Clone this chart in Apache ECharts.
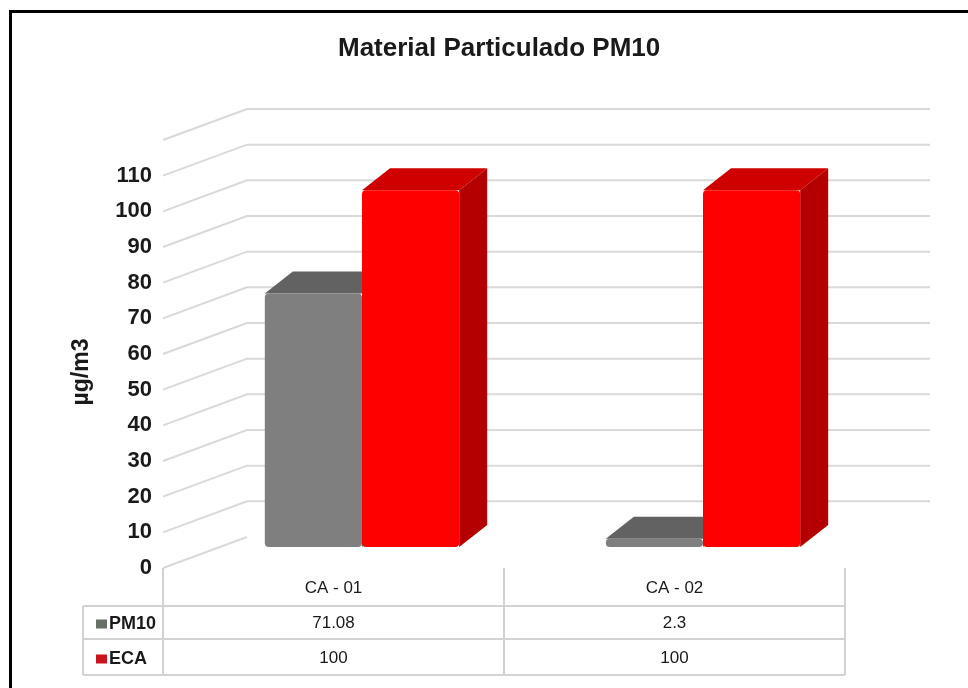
<!DOCTYPE html>
<html>
<head>
<meta charset="utf-8">
<title>Material Particulado PM10</title>
<script src="https://cdn.jsdelivr.net/npm/echarts@6/dist/echarts.min.js"></script>
<style>
  html, body { margin: 0; padding: 0; background: #ffffff; }
  #chart { width: 968px; height: 688px; }
</style>
</head>
<body>
<div id="chart"></div>
<script>
// ---- data ----
const categories = ['CA - 01', 'CA - 02'];
const seriesNames = ['PM10', 'ECA'];
const pm10 = [71.08, 2.3];
const eca = [100, 100];
const axisMin = 0;
const axisMax = 120;
const axisStep = 10;

// ---- layout / style ----
const FONT = "'Liberation Sans', Arial, sans-serif";
const GRID = { left: 163, right: 123, top: 140, bottom: 120 };   // front plane of the 3D box
const WALL_SHIFT = [84, -31];      // front plane -> back wall
const MID_SHIFT = [28.5, -21];     // front plane -> plane of the column faces
const DEPTH = [28, -22];           // column depth (top / side faces)
const BAR_FRACTION = 0.285;        // column width relative to a category band
const WALL_EXTRA = 85;             // wall extends past the front plane on the right
const GRID_COLOR = '#d9d9d9';
const TABLE_COLOR = '#d2d2d2';
const TEXT_COLOR = '#1a1a1a';
const TABLE_LEFT = 83;
const TABLE_ROWS = [38, 71, 107];  // row lines below the plot floor

const COLORS = {
  PM10: { front: '#7f7f7f', top: '#626262', side: '#6a6a6a', key: '#687067' },
  ECA:  { front: '#ff0000', top: '#cf0000', side: '#b40000', key: '#c8141c' }
};

const W = 968, H = 688;
const plotW = W - GRID.left - GRID.right;
const floorY = H - GRID.bottom;

function wallLevels() {
  const out = [];
  for (let v = axisMin; v <= axisMax; v += axisStep) out.push([0, v]);
  return out;
}

// back wall gridlines with their diagonal run along the left side wall
function renderWall(params, api) {
  const cs = params.coordSys;
  const v = api.value(1);
  const y = api.coord([0, v])[1];
  const x0 = cs.x;
  const pts = [[x0, y], [x0 + WALL_SHIFT[0], y + WALL_SHIFT[1]]];
  if (v > axisMin) pts.push([cs.x + cs.width + WALL_EXTRA, y + WALL_SHIFT[1]]);
  return {
    type: 'polyline',
    shape: { points: pts },
    style: { stroke: GRID_COLOR, lineWidth: 2, fill: null }
  };
}

// 3D-looking column: front face, top face and right side face
function columnRenderer(side, c) {
  return function (params, api) {
    const idx = api.value(0);
    const val = api.value(1);
    const base = api.coord([idx, 0]);
    const top = api.coord([idx, val]);
    const band = api.size([1, 0])[0];
    const w = band * BAR_FRACTION;
    const cx = base[0] + MID_SHIFT[0];
    const x0 = side < 0 ? cx - w : cx;
    const x1 = x0 + w;
    const yb = base[1] + MID_SHIFT[1];
    const yt = top[1] + MID_SHIFT[1];
    const dx = DEPTH[0], dy = DEPTH[1];
    return {
      type: 'group',
      children: [
        { type: 'polygon', shape: { points: [[x0, yt], [x0 + dx, yt + dy], [x1 + dx, yt + dy], [x1, yt]] },
          style: { fill: c.top } },
        { type: 'polygon', shape: { points: [[x1, yt], [x1 + dx, yt + dy], [x1 + dx, yb + dy], [x1, yb]] },
          style: { fill: c.side } },
        { type: 'rect', shape: { x: x0, y: yt, width: w, height: yb - yt, r: 4 },
          style: { fill: c.front } }
      ]
    };
  };
}

// data table grid lines under the plot
function tableLines() {
  const xs = [GRID.left, GRID.left + plotW / 2, GRID.left + plotW];
  const lines = [];
  TABLE_ROWS.forEach(function (dy) {
    lines.push({ x1: TABLE_LEFT, y1: floorY + dy, x2: GRID.left + plotW, y2: floorY + dy });
  });
  xs.forEach(function (x) {
    lines.push({ x1: x, y1: floorY, x2: x, y2: floorY + TABLE_ROWS[2] });
  });
  lines.push({ x1: TABLE_LEFT, y1: floorY + TABLE_ROWS[0], x2: TABLE_LEFT, y2: floorY + TABLE_ROWS[2] });
  return lines.map(function (s) {
    return { type: 'line', shape: s, style: { stroke: TABLE_COLOR, lineWidth: 2 }, silent: true, z: 1 };
  });
}

const chart = echarts.init(document.getElementById('chart'), null, { renderer: 'canvas' });

const option = {
  animation: false,
  backgroundColor: '#ffffff',
  title: {
    text: 'Material Particulado PM10',
    left: 333,
    top: 31,
    textStyle: { fontFamily: FONT, fontWeight: 'bold', fontSize: 26, color: TEXT_COLOR }
  },
  legend: {
    orient: 'vertical',
    left: 91,
    top: 609,
    itemGap: 15,
    itemWidth: 11,
    itemHeight: 9,
    icon: 'rect',
    selectedMode: false,
    data: [
      { name: seriesNames[0], itemStyle: { color: COLORS.PM10.key } },
      { name: seriesNames[1], itemStyle: { color: COLORS.ECA.key } }
    ],
    textStyle: { fontFamily: FONT, fontWeight: 'bold', fontSize: 18, color: TEXT_COLOR, lineHeight: 20, padding: [0, 0, 0, -3] }
  },
  grid: { left: GRID.left, right: GRID.right, top: GRID.top, bottom: GRID.bottom },
  xAxis: {
    type: 'category',
    data: categories,
    axisLine: { show: false },
    axisTick: { show: false },
    splitLine: { show: false },
    axisLabel: {
      margin: 2.5,
      interval: 0,
      formatter: function (val, i) {
        return '{c|' + val + '}\n{v|' + pm10[i] + '}\n{v|' + eca[i] + '}';
      },
      rich: {
        c: { fontFamily: FONT, fontSize: 17, color: TEXT_COLOR, lineHeight: 35 },
        v: { fontFamily: FONT, fontSize: 17, color: TEXT_COLOR, lineHeight: 35 }
      }
    }
  },
  yAxis: {
    type: 'value',
    min: axisMin,
    max: axisMax,
    interval: axisStep,
    axisLine: { show: false },
    axisTick: { show: false },
    splitLine: { show: false },
    axisLabel: {
      showMaxLabel: false,
      margin: 11,
      fontFamily: FONT,
      fontWeight: 'bold',
      fontSize: 22,
      color: TEXT_COLOR
    }
  },
  series: [
    {
      type: 'custom',
      name: 'wall',
      silent: true,
      clip: false,
      z: 1,
      renderItem: renderWall,
      data: wallLevels()
    },
    {
      type: 'custom',
      name: seriesNames[0],
      clip: false,
      z: 3,
      itemStyle: { color: COLORS.PM10.front },
      renderItem: columnRenderer(-1, COLORS.PM10),
      data: categories.map(function (c, i) { return [i, pm10[i]]; })
    },
    {
      type: 'custom',
      name: seriesNames[1],
      clip: false,
      z: 4,
      itemStyle: { color: COLORS.ECA.front },
      renderItem: columnRenderer(1, COLORS.ECA),
      data: categories.map(function (c, i) { return [i, eca[i]]; })
    }
  ],
  graphic: tableLines().concat([
    {
      type: 'text',
      x: 82,
      y: 372,
      rotation: Math.PI / 2,
      style: {
        text: 'µg/m3',
        font: "bold 23px 'Liberation Sans', Arial, sans-serif",
        fill: TEXT_COLOR,
        align: 'center',
        verticalAlign: 'middle'
      }
    },
    {
      type: 'rect',
      shape: { x: 10.5, y: 11.5, width: 980, height: 700 },
      style: { fill: null, stroke: '#000000', lineWidth: 3 },
      silent: true,
      z: 10
    }
  ])
};

chart.setOption(option);
</script>
</body>
</html>
